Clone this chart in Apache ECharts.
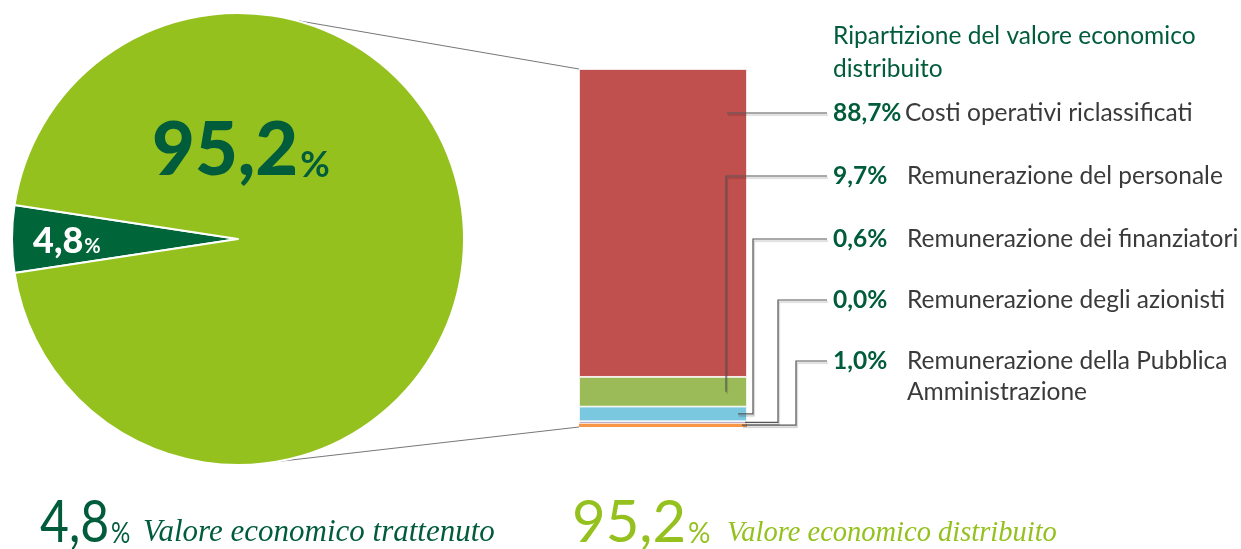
<!DOCTYPE html>
<html>
<head>
<meta charset="utf-8">
<script src="https://cdn.jsdelivr.net/npm/echarts@6/dist/echarts.min.js"></script>
<style>
  html, body { margin: 0; padding: 0; background: #fff; }
  #main { width: 1241px; height: 549px; }
</style>
</head>
<body>
<div id="main"></div>
<script>
// pie: valore economico trattenuto / distribuito
var pieNames = ['Valore economico trattenuto', 'Valore economico distribuito'];
var pieValues = [4.8, 95.2];
var pieLabels = ['4,8', '95,2'];

// barra: ripartizione del valore economico distribuito (bottom -> top)
var barNames = ['Remunerazione della Pubblica\nAmministrazione', 'Remunerazione degli azionisti',
  'Remunerazione dei finanziatori', 'Remunerazione del personale', 'Costi operativi riclassificati'];
var barShares = ['1,0%', '0,0%', '0,6%', '9,7%', '88,7%'];
// segment heights as drawn in the picture
var barValues = [1.0, 0.6, 4.1, 8.3, 86.0];
var barColors = ['#f79646', '#8064a2', '#79c8e0', '#9bbb59', '#c0504d'];

var darkGreen = '#005c3b';
var lightGreen = '#95c11f';
var sansFont = 'Lato, "Open Sans", sans-serif';

var chart = echarts.init(document.getElementById('main'), null, { renderer: 'canvas' });

var series = [{
  type: 'pie',
  center: [238, 239],
  radius: 226,
  startAngle: 180 + pieValues[0] * 1.8,
  animation: false,
  silent: true,
  label: { show: false },
  labelLine: { show: false },
  itemStyle: { borderColor: '#fff', borderWidth: 2 },
  data: [
    { name: pieNames[0], value: pieValues[0], itemStyle: { color: '#00663a' } },
    { name: pieNames[1], value: pieValues[1], itemStyle: { color: lightGreen } }
  ]
}];

barValues.forEach(function (v, i) {
  series.push({
    type: 'bar',
    stack: 'tot',
    barWidth: '100%',
    animation: false,
    silent: true,
    itemStyle: { color: barColors[i], borderColor: '#fff', borderWidth: i === 0 ? 0 : 0.8 },
    data: [v]
  });
});

chart.setOption({
  backgroundColor: '#fff',
  grid: { left: 579, top: 69, width: 168, height: 358 },
  xAxis: { type: 'category', data: [''], show: false },
  yAxis: { type: 'value', min: 0, max: 100, show: false },
  series: series
});

// leader lines / labels
function yAt(v) { return chart.convertToPixel({ gridIndex: 0 }, [0, v])[1]; }
var cum = [];
var acc = 0;
barValues.forEach(function (v) { cum.push(acc + v / 2); acc += v; });

var lineStyle = { stroke: '#555', lineWidth: 1.2, fill: null,
  shadowColor: 'rgba(0,0,0,0.25)', shadowOffsetX: 1, shadowOffsetY: 2, shadowBlur: 1 };
var rowY = [361, 300, 239, 176, 113];
var elbowX = [796, 778, 753, 726, null];
var endX = [742, 745, 738, 726, 727];

var graphics = [];
// connector lines pie -> bar
graphics.push({ type: 'polyline', shape: { points: [[259, 14], [579, 69]] },
  style: { stroke: '#777', lineWidth: 1, fill: null } });
graphics.push({ type: 'polyline', shape: { points: [[265, 463], [579, 427]] },
  style: { stroke: '#777', lineWidth: 1, fill: null } });

for (var i = 0; i < barValues.length; i++) {
  var pts;
  if (elbowX[i] === null) {
    pts = [[827, rowY[i]], [endX[i], rowY[i]]];
  } else if (elbowX[i] === endX[i]) {
    pts = [[827, rowY[i]], [elbowX[i], rowY[i]], [elbowX[i], yAt(cum[i])]];
  } else {
    pts = [[827, rowY[i]], [elbowX[i], rowY[i]], [elbowX[i], yAt(cum[i])], [endX[i], yAt(cum[i])]];
  }
  graphics.push({ type: 'polyline', shape: { points: pts }, style: lineStyle, z: 10 });
  graphics.push({ type: 'text', x: 833, y: rowY[i], style: {
    text: barShares[i], font: 'bold 24.5px ' + sansFont, fill: darkGreen, verticalAlign: 'middle' } });
  graphics.push({ type: 'text', x: i === 4 ? 905 : 907, y: rowY[i] - 15.5, style: {
    text: barNames[i], font: '24.5px ' + sansFont, fill: '#3a3a3a', verticalAlign: 'top', lineHeight: 31 } });
}

// title
graphics.push({ type: 'text', x: 833, y: 20, style: {
  text: 'Ripartizione del valore economico\ndistribuito', font: '24.5px ' + sansFont,
  fill: darkGreen, lineHeight: 33, verticalAlign: 'top' } });

// labels in the pie
graphics.push({ type: 'text', x: 152, y: 114, z: 20, style: {
  text: '{n|' + pieLabels[1] + '}{p|%}', verticalAlign: 'top',
  rich: {
    n: { fontSize: 74, fontWeight: 900, fontFamily: sansFont, fill: darkGreen, lineHeight: 74, verticalAlign: 'bottom' },
    p: { fontSize: 36, fontWeight: 'bold', fontFamily: sansFont, fill: darkGreen, lineHeight: 36, verticalAlign: 'bottom', padding: [0, 0, 5, 2] }
  } } });
graphics.push({ type: 'text', x: 33, y: 223, z: 20, style: {
  text: '{n|' + pieLabels[0] + '}{p|%}', verticalAlign: 'top',
  rich: {
    n: { fontSize: 36, fontWeight: 900, fontFamily: sansFont, fill: '#fff', lineHeight: 36, verticalAlign: 'bottom' },
    p: { fontSize: 20, fontWeight: 'bold', fontFamily: sansFont, fill: '#fff', lineHeight: 20, verticalAlign: 'bottom', padding: [0, 0, 2, 1] }
  } } });

// bottom captions: number + % (sans), then italic serif name
function caption(x, sx, textX, textSize, val, name, color) {
  return [{ type: 'text', x: x, y: 494, scaleX: sx, style: {
    text: '{n|' + val + '}{p|%}', verticalAlign: 'top',
    rich: {
      n: { fontSize: 58, fontFamily: sansFont, fill: color, lineHeight: 58, verticalAlign: 'bottom' },
      p: { fontSize: 28, fontFamily: sansFont, fill: color, lineHeight: 28, verticalAlign: 'bottom', padding: [0, 0, 4, 2] }
    } } },
  { type: 'text', x: textX, y: 548, style: {
    text: name, font: 'italic ' + textSize + 'px "Liberation Serif"', fill: color, verticalAlign: 'bottom' } }];
}
graphics = graphics.concat(caption(40, 0.86, 143, 31, pieLabels[0], pieNames[0], darkGreen));
graphics = graphics.concat(caption(572, 1, 727, 28.5, pieLabels[1], pieNames[1], lightGreen));

chart.setOption({ graphic: graphics });
</script>
</body>
</html>
